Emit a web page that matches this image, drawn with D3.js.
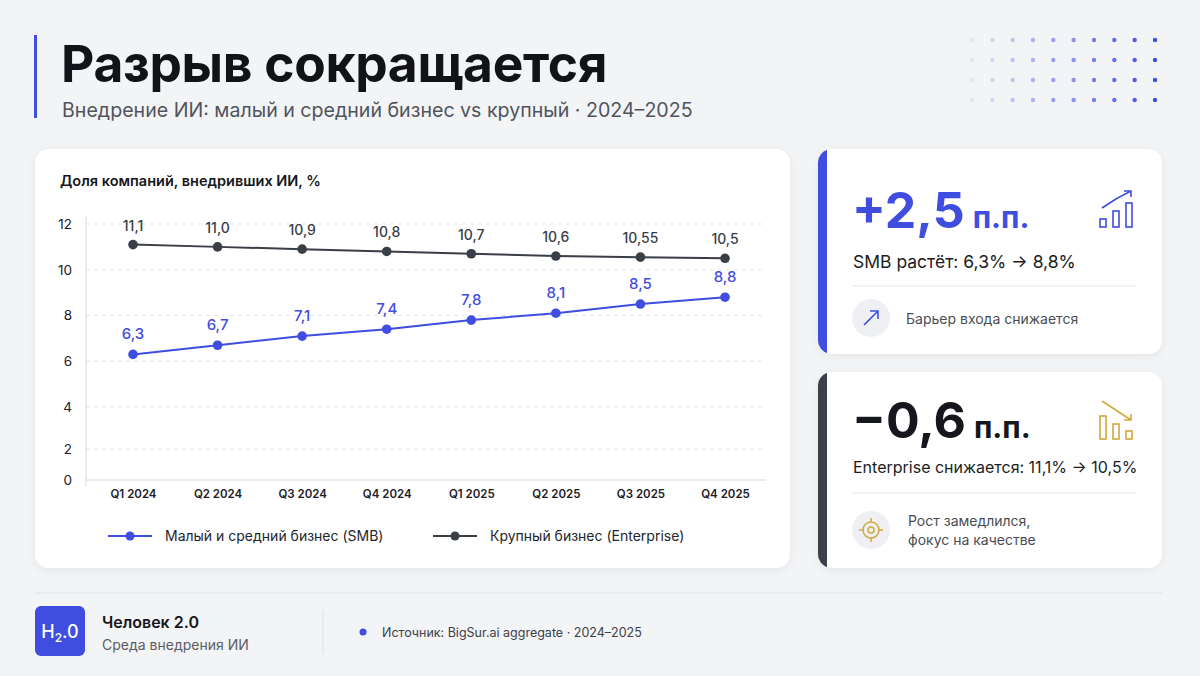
<!DOCTYPE html>
<html>
<head>
    <meta charset="utf-8">
    <title>Разрыв сокращается</title>
    <script src="https://d3js.org/d3.v7.min.js"></script>
    <style>
        html, body { margin: 0; padding: 0; background: #f3f4f6; }
        svg { display: block; font-family: Inter, "Noto Sans", sans-serif; }
    </style>
</head>
<body>
    <div id="chart"></div>
    <script>
        // Data
        const quarters = ["Q1 2024", "Q2 2024", "Q3 2024", "Q4 2024", "Q1 2025", "Q2 2025", "Q3 2025", "Q4 2025"];
        const smbValues = [6.3, 6.7, 7.1, 7.4, 7.8, 8.1, 8.5, 8.8];
        const entValues = [11.1, 11.0, 10.9, 10.8, 10.7, 10.6, 10.55, 10.5];
        const yTicks = [0, 2, 4, 6, 8, 10, 12];
        const seriesNames = ["Малый и средний бизнес (SMB)", "Крупный бизнес (Enterprise)"];

        const blue = "#3f4de0";
        const dark = "#3a3e46";
        const gold = "#d3a83e";
        // one decimal at least, comma as separator
        const fmt = v => (Number.isInteger(v * 10) ? v.toFixed(1) : String(v)).replace(".", ",");

        const width = 1200, height = 676;
        const svg = d3.select("#chart").append("svg")
            .attr("width", width)
            .attr("height", height);

        const defs = svg.append("defs");
        const shadow = defs.append("filter").attr("id", "shadow")
            .attr("x", "-10%").attr("y", "-10%").attr("width", "120%").attr("height", "130%");
        shadow.append("feDropShadow")
            .attr("dx", 0).attr("dy", 2).attr("stdDeviation", 4)
            .attr("flood-color", "#1b2030").attr("flood-opacity", 0.06);

        svg.append("rect").attr("width", width).attr("height", height).attr("fill", "#f3f4f6");

        // Header
        svg.append("rect").attr("x", 34).attr("y", 35).attr("width", 3).attr("height", 83).attr("fill", blue);
        svg.append("text").attr("x", 61).attr("y", 82)
            .attr("font-size", 51.5).attr("font-weight", 700).attr("fill", "#111318")
            .attr("letter-spacing", -0.3)
            .text("Разрыв сокращается");
        svg.append("text").attr("x", 62).attr("y", 117)
            .attr("font-size", 19.6).attr("fill", "#50545d")
            .text("Внедрение ИИ: малый и средний бизнес vs крупный · 2024–2025");

        // Dot grid, top right
        const dotCols = d3.range(10), dotRows = d3.range(4);
        const dotX = d3.scaleLinear().domain([0, 9]).range([972, 1155]);
        const dotY = d3.scaleLinear().domain([0, 3]).range([40, 100]);
        const dotOp = d3.scaleLinear().domain([0, 9]).range([0.08, 1]);
        dotRows.forEach(r => {
            svg.append("g").selectAll("circle").data(dotCols).join("circle")
                .attr("cx", c => dotX(c)).attr("cy", dotY(r)).attr("r", 2.2)
                .attr("fill", blue).attr("opacity", c => dotOp(c));
        });

        // Chart card
        svg.append("rect").attr("x", 35).attr("y", 149).attr("width", 755).attr("height", 419)
            .attr("rx", 14).attr("fill", "#fff").attr("filter", "url(#shadow)");
        svg.append("text").attr("x", 60).attr("y", 186)
            .attr("font-size", 14.5).attr("font-weight", 600).attr("fill", "#15171c")
            .text("Доля компаний, внедривших ИИ, %");

        const x = d3.scalePoint().domain(quarters).range([133, 725]);
        const y = d3.scaleLinear().domain([0, 2, 4, 12]).range([480, 449, 407, 224]);
        const plotLeft = 86, plotRight = 766;

        // Gridlines
        svg.append("g").selectAll("line").data(yTicks.filter(t => t > 0)).join("line")
            .attr("x1", plotLeft).attr("x2", plotRight)
            .attr("y1", d => y(d)).attr("y2", d => y(d))
            .attr("stroke", "#e3e5ea").attr("stroke-dasharray", "4,4");

        // Axes
        const yAxis = svg.append("g").attr("transform", `translate(${plotLeft},0)`)
            .call(d3.axisLeft(y).tickValues(yTicks).tickSize(0).tickPadding(14).tickFormat(d => d));
        yAxis.select(".domain").attr("stroke", "#d6d9df").attr("d", `M0,217V486`);
        yAxis.selectAll("text").attr("font-size", 13.5).attr("fill", "#1e2026")
            .attr("font-family", "Inter, sans-serif");

        const xAxis = svg.append("g").attr("transform", `translate(0,${y(0)})`)
            .call(d3.axisBottom(x).tickSize(0).tickPadding(10));
        xAxis.select(".domain").attr("stroke", "#d6d9df").attr("d", `M${plotLeft},0H${plotRight}`);
        xAxis.selectAll("text").attr("font-size", 11.5).attr("font-weight", 600).attr("fill", "#1e2026")
            .attr("font-family", "Inter, sans-serif");

        // Lines
        const line = d3.line().x((d, i) => x(quarters[i])).y(d => y(d));
        const series = [
            { values: entValues, color: dark, labelSize: 14, off: 14 },
            { values: smbValues, color: blue, labelSize: 15, off: 15 }
        ];
        series.forEach(s => {
            svg.append("path").datum(s.values)
                .attr("d", line).attr("fill", "none")
                .attr("stroke", s.color).attr("stroke-width", 2);
            svg.append("g").selectAll("circle").data(s.values).join("circle")
                .attr("cx", (d, i) => x(quarters[i])).attr("cy", d => y(d))
                .attr("r", 4.8).attr("fill", s.color);
            svg.append("g").selectAll("text").data(s.values).join("text")
                .attr("x", (d, i) => x(quarters[i])).attr("y", d => y(d) - s.off)
                .attr("text-anchor", "middle")
                .attr("font-size", s.labelSize).attr("font-weight", 500).attr("fill", s.color)
                .text(d => fmt(d));
        });

        // Legend
        const legend = [
            { name: seriesNames[0], color: blue, x: 108 },
            { name: seriesNames[1], color: dark, x: 433 }
        ];
        legend.forEach(l => {
            const g = svg.append("g").attr("transform", `translate(${l.x},536)`);
            g.append("line").attr("x1", 0).attr("x2", 44).attr("stroke", l.color).attr("stroke-width", 2);
            g.append("circle").attr("cx", 22).attr("r", 4.5).attr("fill", l.color);
            g.append("text").attr("x", 57).attr("y", 5)
                .attr("font-size", 14).attr("fill", "#24262c").text(l.name);
        });

        // KPI cards
        function card(top, h, accent) {
            const g = svg.append("g");
            const clipId = "clip" + top;
            defs.append("clipPath").attr("id", clipId)
                .append("rect").attr("x", 818).attr("y", top).attr("width", 344).attr("height", h).attr("rx", 14);
            g.append("rect").attr("x", 818).attr("y", top).attr("width", 344).attr("height", h)
                .attr("rx", 14).attr("fill", "#fff").attr("filter", "url(#shadow)");
            g.append("rect").attr("x", 818).attr("y", top).attr("width", 9).attr("height", h)
                .attr("fill", accent).attr("clip-path", `url(#${clipId})`);
            return g;
        }

        // Card 1: SMB
        const c1 = card(149, 205, blue);
        const big1 = c1.append("text").attr("x", 852).attr("y", 228).attr("fill", blue).attr("font-weight", 700);
        big1.append("tspan").attr("font-size", 50).text("+2,5");
        big1.append("tspan").attr("font-size", 30).attr("dx", 8).text("п.п.");
        c1.append("text").attr("x", 853).attr("y", 268).attr("font-size", 17.5).attr("fill", "#1b1d22")
            .text("SMB растёт: 6,3% → 8,8%");
        c1.append("line").attr("x1", 852).attr("x2", 1137).attr("y1", 286).attr("y2", 286).attr("stroke", "#e8e9ed");
        c1.append("circle").attr("cx", 871).attr("cy", 318).attr("r", 19).attr("fill", "#eef0f3");
        c1.append("path").attr("d", "M864,325L878,311M870,311H878V319")
            .attr("fill", "none").attr("stroke", blue).attr("stroke-width", 1.6);
        c1.append("text").attr("x", 906).attr("y", 324).attr("font-size", 14).attr("fill", "#4a4d55")
            .text("Барьер входа снижается");
        // bar-up icon
        const up = c1.append("g").attr("fill", "none").attr("stroke", blue).attr("stroke-width", 1.6);
        up.append("rect").attr("x", 1100).attr("y", 219).attr("width", 6).attr("height", 8);
        up.append("rect").attr("x", 1113).attr("y", 211).attr("width", 6).attr("height", 16);
        up.append("rect").attr("x", 1126).attr("y", 203).attr("width", 6).attr("height", 24);
        up.append("path").attr("d", "M1102,208Q1116,198 1131,191M1124,191H1131V197");

        // Card 2: Enterprise
        const c2 = card(372, 196, "#3b3f48");
        const big2 = c2.append("text").attr("x", 852).attr("y", 438).attr("fill", "#15171c").attr("font-weight", 700);
        big2.append("tspan").attr("font-size", 50).text("−0,6");
        big2.append("tspan").attr("font-size", 30).attr("dx", 8).text("п.п.");
        c2.append("text").attr("x", 853).attr("y", 473).attr("font-size", 16).attr("fill", "#1b1d22")
            .text("Enterprise снижается: 11,1% → 10,5%");
        c2.append("line").attr("x1", 852).attr("x2", 1137).attr("y1", 493).attr("y2", 493).attr("stroke", "#e8e9ed");
        c2.append("circle").attr("cx", 871).attr("cy", 530).attr("r", 19).attr("fill", "#eef0f3");
        const tgt = c2.append("g").attr("fill", "none").attr("stroke", gold).attr("stroke-width", 1.5);
        tgt.append("circle").attr("cx", 871).attr("cy", 530).attr("r", 8);
        tgt.append("circle").attr("cx", 871).attr("cy", 530).attr("r", 3);
        tgt.append("path").attr("d", "M859,530H863M879,530H883M871,518V522M871,538V542");
        const t2 = c2.append("text").attr("font-size", 14).attr("fill", "#4a4d55");
        t2.append("tspan").attr("x", 908).attr("y", 526).text("Рост замедлился,");
        t2.append("tspan").attr("x", 908).attr("y", 545).text("фокус на качестве");
        const down = c2.append("g").attr("fill", "none").attr("stroke", gold).attr("stroke-width", 1.6);
        down.append("rect").attr("x", 1100).attr("y", 416).attr("width", 6).attr("height", 23);
        down.append("rect").attr("x", 1113).attr("y", 424).attr("width", 6).attr("height", 15);
        down.append("rect").attr("x", 1126).attr("y", 431).attr("width", 6).attr("height", 8);
        down.append("path").attr("d", "M1102,401L1131,420M1124,420H1131V414");

        // Footer
        svg.append("line").attr("x1", 35).attr("x2", 1162).attr("y1", 593).attr("y2", 593).attr("stroke", "#dfe1e6");
        svg.append("rect").attr("x", 35).attr("y", 606).attr("width", 50).attr("height", 50).attr("rx", 6).attr("fill", blue);
        const logo = svg.append("text").attr("x", 60).attr("y", 638).attr("text-anchor", "middle")
            .attr("fill", "#fff").attr("font-size", 18).attr("font-weight", 500);
        logo.append("tspan").text("H");
        logo.append("tspan").attr("font-size", 12).attr("dy", 4).text("2");
        logo.append("tspan").attr("dy", -4).text(".0");
        svg.append("text").attr("x", 102).attr("y", 628).attr("font-size", 16).attr("font-weight", 600)
            .attr("fill", "#15171c").text("Человек 2.0");
        svg.append("text").attr("x", 102).attr("y", 650).attr("font-size", 14).attr("fill", "#5a5d65")
            .text("Среда внедрения ИИ");
        svg.append("line").attr("x1", 323).attr("x2", 323).attr("y1", 610).attr("y2", 654).attr("stroke", "#dfe1e6");
        svg.append("circle").attr("cx", 363).attr("cy", 632).attr("r", 3.5).attr("fill", blue);
        svg.append("text").attr("x", 382).attr("y", 637).attr("font-size", 12.5).attr("fill", "#3d4047")
            .text("Источник: BigSur.ai aggregate · 2024–2025");
    </script>
</body>
</html>
